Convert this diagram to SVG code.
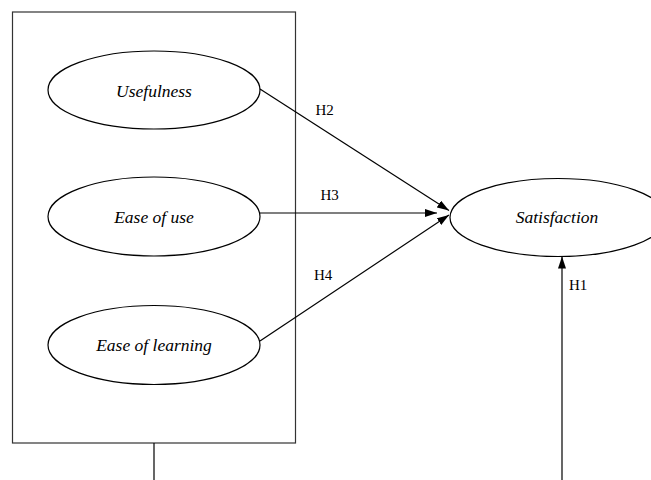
<svg xmlns="http://www.w3.org/2000/svg" width="651" height="480" viewBox="0 0 651 480">
<style>
.node ellipse{fill:#fff;stroke:#000;stroke-width:1.2}
.node text{font-family:'Liberation Serif','Times New Roman',serif;font-style:italic;font-size:17.5px;text-anchor:middle;fill:#000}
.lbl{font-family:'Liberation Serif','Times New Roman',serif;font-size:15px;fill:#000}
.conn line{stroke:#000;stroke-width:1.2}
</style>
<defs>
<marker id="ah" viewBox="0 0 12 8" refX="12" refY="4" markerWidth="12" markerHeight="8" markerUnits="userSpaceOnUse" orient="auto">
<path d="M0,0 L12,4 L0,8 Z" fill="#000"/>
</marker>
</defs>
<rect id="group" x="12.5" y="12" width="283" height="431" fill="none" stroke="#333" stroke-width="1.2"/>
<g id="n-usefulness" class="node"><ellipse cx="154" cy="90" rx="106" ry="39"/><text x="154" y="97">Usefulness</text></g>
<g id="n-easeofuse" class="node"><ellipse cx="154" cy="216.5" rx="106" ry="39.5"/><text x="154" y="223">Ease of use</text></g>
<g id="n-easeoflearning" class="node"><ellipse cx="154" cy="345" rx="106" ry="39.5"/><text x="154" y="351">Ease of learning</text></g>
<g id="n-satisfaction" class="node"><ellipse cx="558" cy="217.5" rx="108" ry="39"/><text x="557" y="223">Satisfaction</text></g>
<g id="connectors" class="conn">
<line x1="260" y1="89" x2="449" y2="210.5" marker-end="url(#ah)"/>
<line x1="260" y1="213" x2="437" y2="213" marker-end="url(#ah)"/>
<line x1="260" y1="341" x2="449" y2="215" marker-end="url(#ah)"/>
<line x1="154" y1="443" x2="154" y2="480" stroke="#333"/>
<line x1="562" y1="480" x2="562" y2="256.5" marker-end="url(#ah)"/>
</g>
<text class="lbl" x="315.5" y="115">H2</text>
<text class="lbl" x="320.5" y="200">H3</text>
<text class="lbl" x="314" y="280">H4</text>
<text class="lbl" x="569" y="290">H1</text>
</svg>
